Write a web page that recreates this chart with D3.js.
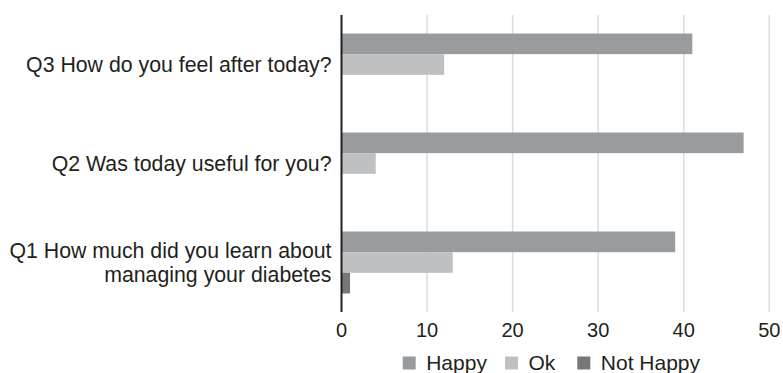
<!DOCTYPE html>
<html>
  <head>
    <style>
    body { margin: 0; background: #fff; }
    text { font-family: "Liberation Sans", Arial, sans-serif; fill: #231f20; }
    </style>
  </head>
  <body>

    <svg width="783" height="373"></svg>

    <script src="https://cdn.jsdelivr.net/npm/d3@7"></script>
    <script>

      const questions = ['Q3 How do you feel after today?', 'Q2 Was today useful for you?', 'Q1 How much did you learn about|managing your diabetes']
      const series = ['Happy', 'Ok', 'Not Happy']
      const happy = [41, 47, 39]
      const ok = [12, 4, 13]
      const notHappy = [0, 0, 1]
      const ticks = [0, 10, 20, 30, 40, 50]
      const colors = ['#999c9f', '#bfc0c2', '#767779']

      const svg = d3.select('svg')
      const margin = {top: 15, left: 341.5}
      const width = 769.3 - margin.left
      const height = 312 - margin.top

      const values = [happy, ok, notHappy]
      const data = questions.map((q, i) => ({ q, vals: series.map((s, j) => ({ s, v: values[j][i] })) }))

      const x = d3.scaleLinear().domain([0, 50]).range([0, width])
      const y0 = d3.scaleBand().domain(questions).range([0, height]).paddingInner(0.374).paddingOuter(0.187)
      const y1 = d3.scaleBand().domain(series).range([0, y0.bandwidth()])

      const chart = svg.append('g')
          .attr('transform', 'translate(' + margin.left + ',' + margin.top + ')')

      // grid
      chart.selectAll('.grid')
        .data(ticks.slice(1))
        .enter().append('line')
          .attr('x1', d => x(d)).attr('x2', d => x(d))
          .attr('y1', 0).attr('y2', height)
          .attr('stroke', '#dcdcdc')
          .attr('stroke-width', 1.5)

      const groups = chart.selectAll('.group')
        .data(data)
        .enter().append('g')
          .attr('transform', d => 'translate(0,' + y0(d.q) + ')')

      groups.selectAll('rect')
        .data(d => d.vals)
        .enter().append('rect')
          .attr('x', 0)
          .attr('y', d => y1(d.s))
          .attr('width', d => x(d.v))
          .attr('height', y1.bandwidth())
          .attr('fill', (d, i) => colors[i])

      // axis line
      chart.append('line')
          .attr('x1', 0).attr('x2', 0)
          .attr('y1', 0).attr('y2', height)
          .attr('stroke', '#231f20')
          .attr('stroke-width', 2)

      // x tick labels
      chart.selectAll('.xt')
        .data(ticks)
        .enter().append('text')
          .attr('x', d => x(d))
          .attr('y', height + 24.5)
          .attr('text-anchor', 'middle')
          .attr('font-size', 20)
          .text(d => d)

      // category labels
      const labels = chart.selectAll('.cat')
        .data(questions)
        .enter().append('text')
          .attr('text-anchor', 'end')
          .attr('font-size', 21.3)
          .attr('transform', d => 'translate(-10,' + (y0(d) + y0.bandwidth() / 2) + ')')

      labels.each(function (d) {
        const lines = d.split('|')
        const t = d3.select(this)
        lines.forEach((l, i) => {
          t.append('tspan')
            .attr('x', 0)
            .attr('y', (i - (lines.length - 1) / 2) * 24 + 7)
            .text(l)
        })
      })

      // legend
      const legendX = [402.7, 505, 577.3]
      const legend = svg.selectAll('.legend')
        .data(series)
        .enter().append('g')
          .attr('transform', (d, i) => 'translate(' + legendX[i] + ',356.5)')

      legend.append('rect')
        .attr('width', 13).attr('height', 13)
        .attr('fill', (d, i) => colors[i])

      legend.append('text')
        .attr('x', 23.5)
        .attr('y', 13.5)
        .attr('font-size', 21)
        .text(d => d)

    </script>
  </body>
</html>
